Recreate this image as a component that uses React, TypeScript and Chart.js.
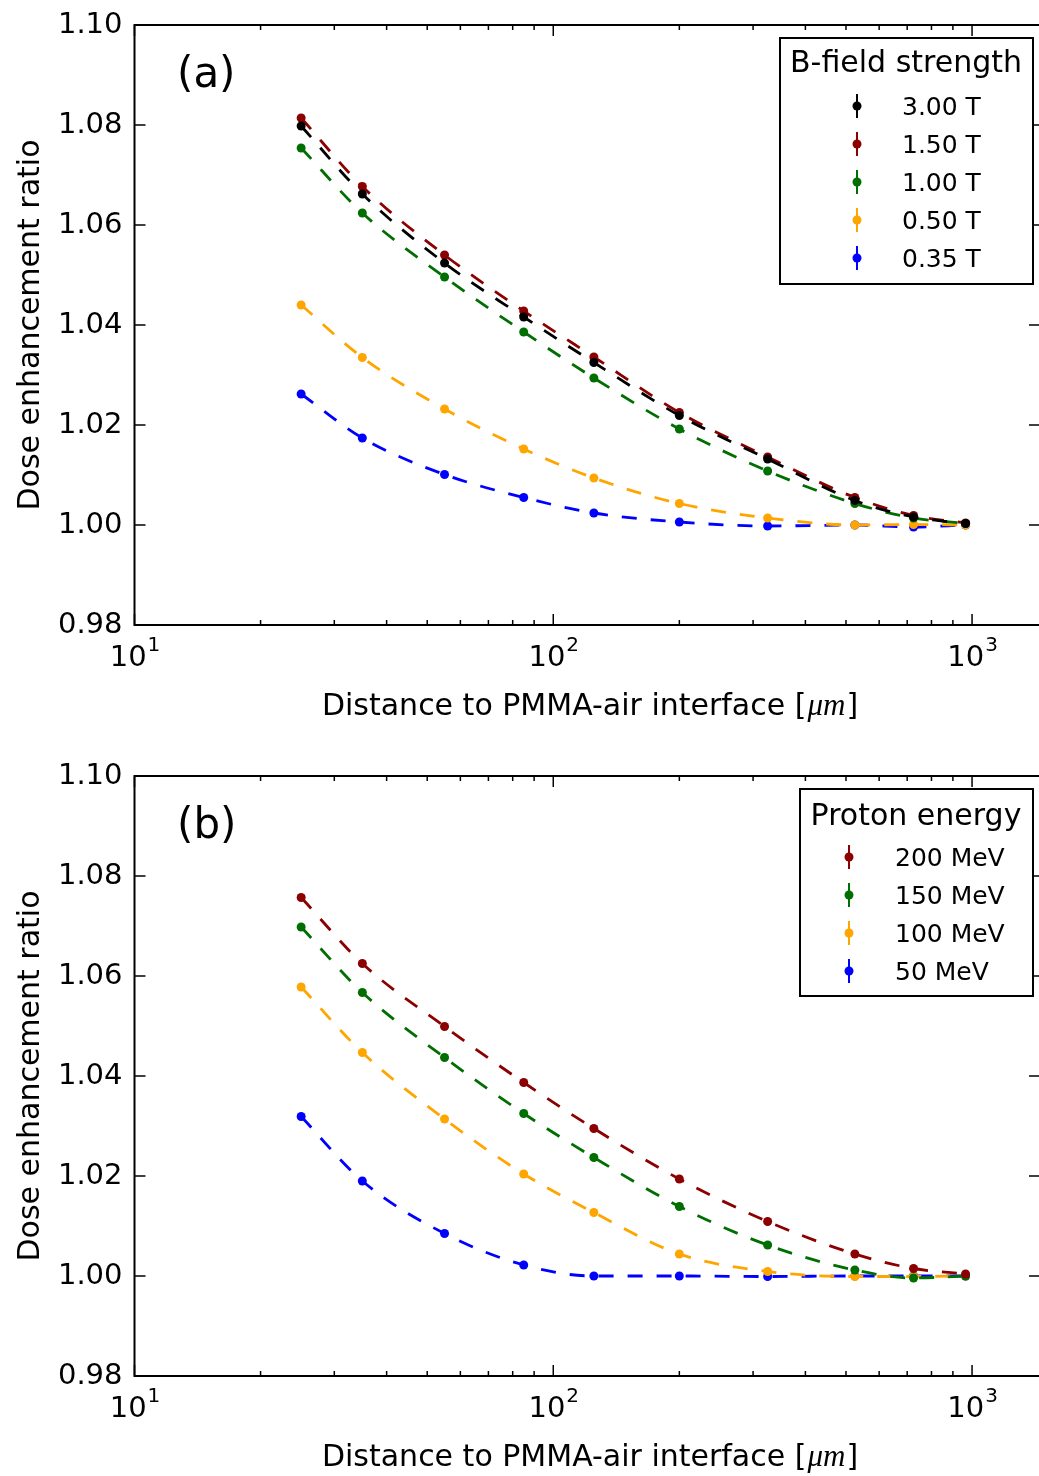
import React, { useEffect, useRef } from 'react';
import { Chart, registerables } from 'chart.js';

Chart.register(...registerables);

// ---------- data ----------
const distances = [25, 35, 55, 85, 125, 200, 325, 525, 725, 965];

// panel (a): B-field strength
const field300 = [1.0798, 1.0662, 1.0524, 1.0416, 1.0325, 1.0219, 1.0132, 1.0049, 1.0016, 1.0003];
const field150 = [1.0814, 1.0677, 1.0540, 1.0428, 1.0336, 1.0225, 1.0136, 1.0055, 1.0019, 1.0004];
const field100 = [1.0754, 1.0624, 1.0496, 1.0386, 1.0294, 1.0192, 1.0108, 1.0043, 1.0014, 1.0003];
const field050 = [1.0440, 1.0335, 1.0232, 1.0152, 1.0094, 1.0043, 1.0014, 1.0000, 1.0001, 1.0000];
const field035 = [1.0262, 1.0174, 1.0101, 1.0055, 1.0024, 1.0006, 0.9998, 1.0000, 0.9996, 1.0000];

// panel (b): proton energy
const energy200 = [1.0757, 1.0625, 1.0499, 1.0387, 1.0295, 1.0194, 1.0109, 1.0044, 1.0015, 1.0004];
const energy150 = [1.0698, 1.0567, 1.0437, 1.0325, 1.0237, 1.0139, 1.0062, 1.0012, 0.9996, 1.0000];
const energy100 = [1.0578, 1.0447, 1.0314, 1.0204, 1.0127, 1.0044, 1.0009, 0.9999, 0.9999, 1.0000];
const energy050 = [1.0319, 1.0190, 1.0085, 1.0022, 1.0000, 1.0000, 0.9999, 1.0000, 1.0000, 1.0000];

const fieldLabels = ['3.00 T', '1.50 T', '1.00 T', '0.50 T', '0.35 T'];
const energyLabels = ['200 MeV', '150 MeV', '100 MeV', '50 MeV'];

const yTicks = [0.98, 1.0, 1.02, 1.04, 1.06, 1.08, 1.1];
const xMajorTicks = [10, 100, 1000];
const xTickExponents = ['1', '2', '3'];

const xMin = 10;
const xMax = 1453;
const yMin = 0.98;
const yMax = 1.1;

const COLORS = {
  black: '#000000',
  red: '#8b0000',
  green: '#006e00',
  orange: '#ffa500',
  blue: '#0000ff',
};

const FONT = '"DejaVu Sans"';

type Series = { label: string; color: string; values: number[] };

type PanelCfg = {
  tag: string;
  legendTitle: string;
  series: Series[];
  top: number;
  height: number;
  legendBox: { x: number; y: number; w: number; h: number };
  legendTitleX: number;
  legendTitleY: number;
  legendMarkerX: number;
  legendTextX: number;
  legendRows: number[];
};

const panelA: PanelCfg = {
  tag: '(a)',
  legendTitle: 'B-field strength',
  series: [
    { label: fieldLabels[0], color: COLORS.black, values: field300 },
    { label: fieldLabels[1], color: COLORS.red, values: field150 },
    { label: fieldLabels[2], color: COLORS.green, values: field100 },
    { label: fieldLabels[3], color: COLORS.orange, values: field050 },
    { label: fieldLabels[4], color: COLORS.blue, values: field035 },
  ],
  top: 0,
  height: 740,
  legendBox: { x: 780, y: 38, w: 253, h: 246 },
  legendTitleX: 906,
  legendTitleY: 72,
  legendMarkerX: 857,
  legendTextX: 902,
  legendRows: [106, 144, 182, 220, 258],
};

const panelB: PanelCfg = {
  tag: '(b)',
  legendTitle: 'Proton energy',
  series: [
    { label: energyLabels[0], color: COLORS.red, values: energy200 },
    { label: energyLabels[1], color: COLORS.green, values: energy150 },
    { label: energyLabels[2], color: COLORS.orange, values: energy100 },
    { label: energyLabels[3], color: COLORS.blue, values: energy050 },
  ],
  top: 751,
  height: 725,
  legendBox: { x: 800, y: 38, w: 233, h: 207 },
  legendTitleX: 916,
  legendTitleY: 74,
  legendMarkerX: 849,
  legendTextX: 895,
  legendRows: [106, 144, 182, 220],
};

function makeDecorPlugin(cfg: PanelCfg) {
  return {
    id: 'decor' + cfg.tag,
    afterDraw(chart: any) {
      const { ctx, chartArea: ca, scales } = chart;
      const x = scales.x;
      const y = scales.y;
      ctx.save();

      // ticks (inside, all four sides)
      ctx.strokeStyle = '#000';
      ctx.lineWidth = 1.5;
      const seg = (x1: number, y1: number, x2: number, y2: number) => {
        ctx.beginPath();
        ctx.moveTo(x1, y1);
        ctx.lineTo(x2, y2);
        ctx.stroke();
      };
      for (const t of yTicks) {
        const py = y.getPixelForValue(t);
        seg(ca.left, py, ca.left + 11, py);
        seg(ca.right, py, ca.right - 11, py);
      }
      for (let n = 1; n <= 3; n++) {
        for (let k = 1; k <= 9; k++) {
          const v = k * Math.pow(10, n);
          if (v < xMin || v > xMax) continue;
          const px = x.getPixelForValue(v);
          const len = k === 1 ? 11 : 5;
          seg(px, ca.bottom, px, ca.bottom - len);
          seg(px, ca.top, px, ca.top + len);
        }
      }

      // frame
      ctx.lineWidth = 2;
      ctx.strokeRect(ca.left, ca.top, ca.right - ca.left, ca.bottom - ca.top);

      // x tick labels 10^n
      ctx.fillStyle = '#000';
      ctx.textBaseline = 'alphabetic';
      ctx.textAlign = 'left';
      xMajorTicks.forEach((v, i) => {
        const px = x.getPixelForValue(v);
        ctx.font = `29px ${FONT}`;
        const wb = ctx.measureText('10').width;
        ctx.font = `20px ${FONT}`;
        const we = ctx.measureText(xTickExponents[i]).width;
        const start = px - (wb + we) / 2;
        ctx.font = `29px ${FONT}`;
        ctx.fillText('10', start, ca.bottom + 41);
        ctx.font = `20px ${FONT}`;
        ctx.fillText(xTickExponents[i], start + wb + 1, ca.bottom + 26);
      });

      // x axis title with math-italic unit
      const t1 = 'Distance to PMMA-air interface [';
      const t2 = 'μm';
      const t3 = ']';
      ctx.font = `30px ${FONT}`;
      const w1 = ctx.measureText(t1).width;
      const w3 = ctx.measureText(t3).width;
      ctx.font = `italic 31px "Liberation Serif"`;
      const w2 = ctx.measureText(t2).width;
      const total = w1 + w2 + w3 + 2;
      let sx = 590 - total / 2;
      const by = ca.bottom + 90;
      ctx.font = `30px ${FONT}`;
      ctx.fillText(t1, sx, by);
      sx += w1 + 1;
      ctx.font = `italic 31px "Liberation Serif"`;
      ctx.fillText(t2, sx, by);
      sx += w2 + 1;
      ctx.font = `30px ${FONT}`;
      ctx.fillText(t3, sx, by);

      // y axis title
      ctx.save();
      ctx.translate(39, (ca.top + ca.bottom) / 2);
      ctx.rotate(-Math.PI / 2);
      ctx.textAlign = 'center';
      ctx.font = `30px ${FONT}`;
      ctx.fillText('Dose enhancement ratio', 0, 0);
      ctx.restore();

      // panel tag
      ctx.textAlign = 'left';
      ctx.font = `42px ${FONT}`;
      ctx.fillText(cfg.tag, 177, 87);

      // legend
      const b = cfg.legendBox;
      ctx.fillStyle = '#fff';
      ctx.fillRect(b.x, b.y, b.w, b.h);
      ctx.strokeStyle = '#000';
      ctx.lineWidth = 2;
      ctx.strokeRect(b.x, b.y, b.w, b.h);
      ctx.fillStyle = '#000';
      ctx.textAlign = 'center';
      ctx.font = `30px ${FONT}`;
      ctx.fillText(cfg.legendTitle, cfg.legendTitleX, cfg.legendTitleY);
      ctx.textAlign = 'left';
      ctx.font = `25px ${FONT}`;
      cfg.series.forEach((s, i) => {
        const ry = cfg.legendRows[i];
        ctx.strokeStyle = s.color;
        ctx.lineWidth = 2;
        seg(cfg.legendMarkerX, ry - 12, cfg.legendMarkerX, ry + 12);
        ctx.fillStyle = s.color;
        ctx.beginPath();
        ctx.arc(cfg.legendMarkerX, ry, 4.5, 0, Math.PI * 2);
        ctx.fill();
        ctx.fillStyle = '#000';
        ctx.fillText(s.label, cfg.legendTextX, ry + 9);
      });

      ctx.restore();
    },
  };
}

function makeChart(canvas: HTMLCanvasElement, cfg: PanelCfg) {
  const datasets = cfg.series.map((s) => ({
    label: s.label,
    data: distances.map((d, i) => ({ x: d, y: s.values[i] })),
    borderColor: s.color,
    backgroundColor: s.color,
    borderWidth: 2.8,
    borderDash: [15, 14],
    pointRadius: 4.5,
    pointBorderWidth: 0,
    pointBackgroundColor: s.color,
    cubicInterpolationMode: 'monotone' as const,
    fill: false,
  }));
  return new Chart(canvas, {
    type: 'line',
    data: { datasets },
    options: {
      responsive: false,
      animation: false,
      devicePixelRatio: 1,
      layout: { padding: { left: 0, top: 25, right: 5, bottom: cfg.height - 625 } },
      plugins: { legend: { display: false }, tooltip: { enabled: false } },
      scales: {
        x: { type: 'logarithmic', min: xMin, max: xMax, display: false },
        y: {
          type: 'linear',
          min: yMin,
          max: yMax,
          grid: { display: false, drawTicks: false },
          border: { display: false },
          ticks: {
            stepSize: 0.02,
            autoSkip: false,
            padding: 12,
            color: '#000',
            font: { size: 29, family: 'DejaVu Sans' },
            callback: (v: any) => Number(v).toFixed(2),
          },
          afterFit: (s: any) => {
            s.width = 134.5;
            s.paddingTop = 0;
            s.paddingBottom = 0;
          },
        },
      },
    },
    plugins: [makeDecorPlugin(cfg)],
  } as any);
}

function Panel({ cfg }: { cfg: PanelCfg }) {
  const ref = useRef<HTMLCanvasElement | null>(null);
  useEffect(() => {
    if (!ref.current) return;
    const chart = makeChart(ref.current, cfg);
    return () => chart.destroy();
  }, [cfg]);
  return (
    <canvas
      ref={ref}
      width={1045}
      height={cfg.height}
      style={{ position: 'absolute', left: 0, top: cfg.top, width: 1045, height: cfg.height }}
    />
  );
}

export default function App() {
  return (
    <div
      style={{
        position: 'absolute',
        left: 0,
        top: 0,
        width: 1039,
        height: 1476,
        overflow: 'hidden',
        background: '#fff',
      }}
    >
      <Panel cfg={panelA} />
      <Panel cfg={panelB} />
    </div>
  );
}
